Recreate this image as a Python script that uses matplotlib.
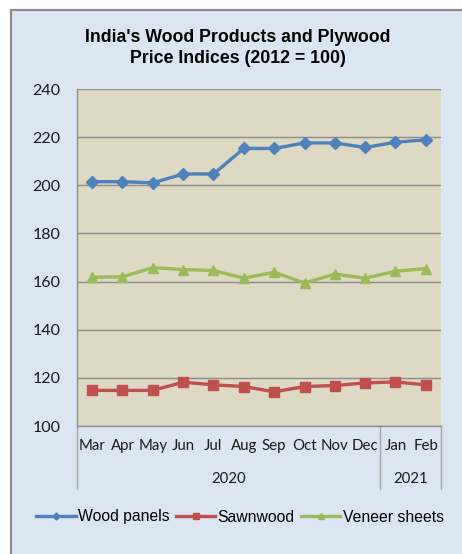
import matplotlib
matplotlib.use("Agg")
import matplotlib.pyplot as plt
from matplotlib.patches import Rectangle
from matplotlib.lines import Line2D
import matplotlib.transforms as mtransforms

months = ["Mar", "Apr", "May", "Jun", "Jul", "Aug", "Sep", "Oct", "Nov", "Dec", "Jan", "Feb"]
years = ["2020", "2021"]
year_spans = [(0, 9), (10, 11)]
wood_panels = [201.5, 201.5, 201.0, 204.7, 204.7, 215.3, 215.3, 217.6, 217.6, 215.7, 217.9, 218.9]
sawnwood = [114.8, 114.8, 114.8, 118.2, 117.1, 116.4, 114.2, 116.4, 116.8, 117.9, 118.3, 117.1]
veneer = [161.8, 162.0, 165.8, 165.0, 164.6, 161.4, 163.9, 159.4, 163.1, 161.4, 164.3, 165.4]

W, H = 462, 554
fig = plt.figure(figsize=(W / 100, H / 100), dpi=100, facecolor="white")
# chart area background
bg = Rectangle((11 / W, -0.05), 1.1, (H - 10) / H + 0.05, transform=fig.transFigure,
               facecolor="#DCE6F2", edgecolor="#8C8C8C", linewidth=1.6, zorder=-10)
fig.add_artist(bg)

ax = fig.add_axes([77 / W, 1 - 426 / H, (441 - 77) / W, (426 - 89) / H])
ax.set_facecolor("#DDD9C3")

x = list(range(len(months)))
ax.plot(x, wood_panels, color="#4F81BD", lw=2.4, marker="D", ms=6, label="Wood panels", zorder=3)
ax.plot(x, sawnwood, color="#C0504D", lw=2.4, marker="s", ms=6.5, label="Sawnwood", zorder=3)
ax.plot(x, veneer, color="#9BBB59", lw=2.4, marker="^", ms=7, label="Veneer sheets", zorder=3)

ax.set_ylim(100, 240)
ax.set_xlim(-0.5, len(months) - 0.5)
ax.set_yticks(range(100, 241, 20))
ax.grid(axis="y", color="#8C8C8C", lw=1.0)
ax.set_axisbelow(True)
for s in ["top", "right"]:
    ax.spines[s].set_visible(False)
ax.spines["left"].set_color("#8C8C8C")
ax.spines["bottom"].set_color("#8C8C8C")
ax.spines["left"].set_linewidth(1.0)
ax.spines["bottom"].set_linewidth(1.0)
ax.tick_params(axis="y", length=0, pad=12, labelsize=11.5, labelcolor="#1a1a1a")
ax.tick_params(axis="x", length=0, pad=9.5, labelsize=10.8, labelcolor="#1a1a1a")
for lab in ax.get_yticklabels():
    lab.set_fontfamily("Lato")
ax.set_xticks(x)
ax.set_xticklabels(months, fontfamily="Lato")

trans = mtransforms.blended_transform_factory(ax.transData, ax.transAxes)
seg_bottom = -(489 - 426) / (426 - 89)
for xb in [-0.5, 9.5, 11.5]:
    ax.add_line(Line2D([xb, xb], [0, seg_bottom], transform=trans, color="#A6A6A6",
                       lw=1.0, clip_on=False))
year_y = -(479 - 426) / (426 - 89)
for yr, (a, b) in zip(years, year_spans):
    ax.text((a + b) / 2, year_y, yr, transform=trans, ha="center", va="center",
            fontsize=10.8, fontfamily="Lato", color="#1a1a1a")

fig.text(238 / W, 1 - 48 / H, "India's Wood Products and Plywood\nPrice Indices (2012 = 100)",
         ha="center", va="center", fontsize=12.8, fontweight="bold",
         fontfamily="Liberation Sans", linespacing=1.25)

leg = fig.legend(loc="center", bbox_to_anchor=(240 / W, 1 - 517 / H), ncol=3, frameon=False,
                 prop={"family": "Liberation Sans", "size": 11.3}, handlelength=2.5,
                 handletextpad=0.15, columnspacing=0.4, markerscale=0.6)

fig.savefig("out.png", dpi=100, facecolor="white")
